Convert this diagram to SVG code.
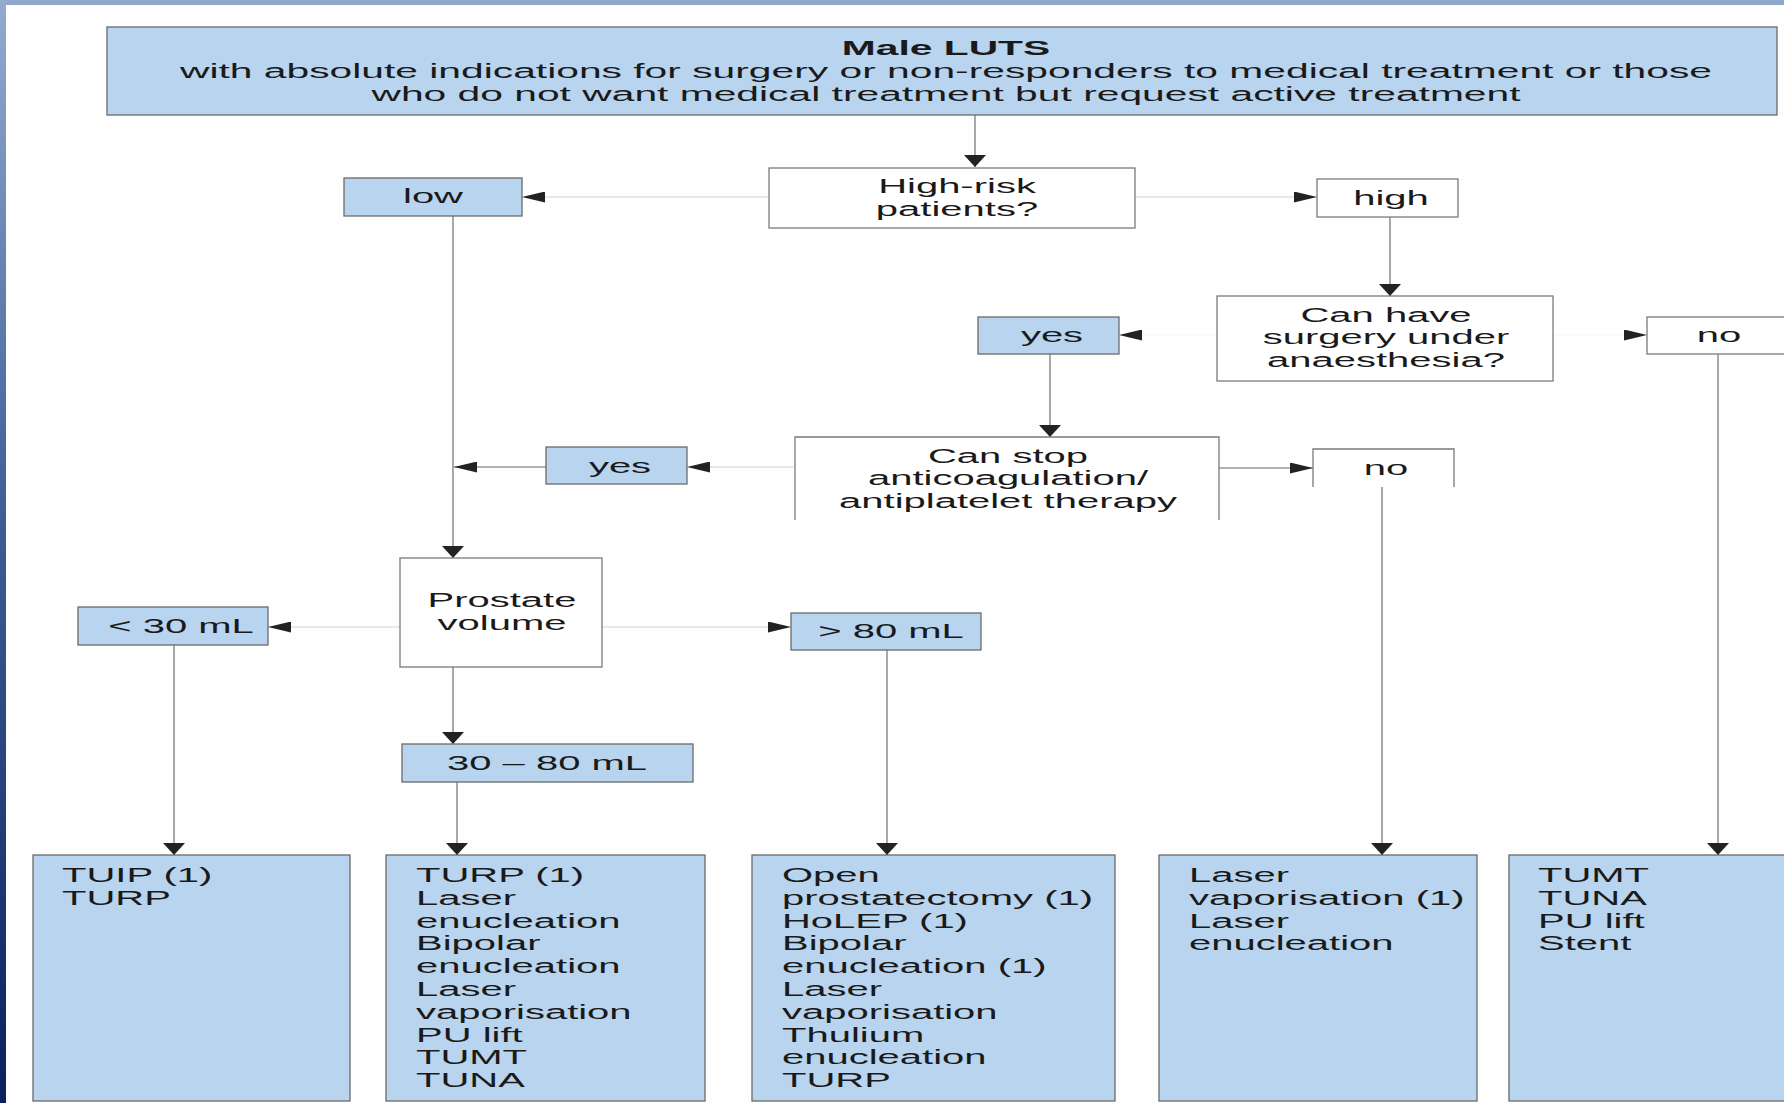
<svg xmlns="http://www.w3.org/2000/svg" width="1784" height="1103" viewBox="0 0 1784 1103">
<style>
.t{font-family:"Liberation Sans",Arial,sans-serif;font-size:20px;fill:#1a1a1a}
.b{font-weight:bold}
.blue{fill:#b9d4ee;stroke:#6a6a6a;stroke-width:1.3}
.white{fill:#ffffff;stroke:#7a7a7a;stroke-width:1.3}
.open{fill:#ffffff;stroke:#7a7a7a;stroke-width:1.3}
.v{stroke:#7a7a7a;stroke-width:1.3;fill:none}
.h{stroke:#9a9a9a;stroke-width:1.3;fill:none}
.faint{stroke:#e2e2e2;stroke-width:1.3;fill:none}
.vfaint{stroke:#f7f7f7;stroke-width:1.3;fill:none}
</style>
<defs>
<linearGradient id="side" x1="0" y1="0" x2="0" y2="1">
<stop offset="0" stop-color="#93abce"/>
<stop offset="0.45" stop-color="#40609a"/>
<stop offset="1" stop-color="#0a1f5e"/>
</linearGradient>
<marker id="ah" markerUnits="userSpaceOnUse" viewBox="0 0 23 11" markerWidth="23" markerHeight="11" refX="23" refY="5.5" orient="auto">
<path d="M0,0 L23,5.5 L0,11 Z" fill="#222"/>
</marker>
<marker id="av" markerUnits="userSpaceOnUse" viewBox="0 0 12 22" markerWidth="12" markerHeight="22" refX="12" refY="11" orient="auto">
<path d="M0,0 L12,11 L0,22 Z" fill="#222"/>
</marker>
</defs>
<rect x="0" y="0" width="1784" height="1103" fill="#fefefe"/>
<rect x="0" y="0" width="1784" height="5" fill="#8ea8ca"/>
<rect x="0" y="0" width="6" height="1103" fill="url(#side)"/>

<g id="connectors">
<line class="v" x1="975" y1="115" x2="975" y2="167" marker-end="url(#av)"/>
<line class="faint" x1="769" y1="197" x2="522" y2="197" marker-end="url(#ah)"/>
<line class="faint" x1="1135" y1="197" x2="1317" y2="197" marker-end="url(#ah)"/>
<line class="v" x1="1390" y1="217" x2="1390" y2="296" marker-end="url(#av)"/>
<line class="vfaint" x1="1217" y1="335" x2="1119" y2="335" marker-end="url(#ah)"/>
<line class="vfaint" x1="1553" y1="335" x2="1647" y2="335" marker-end="url(#ah)"/>
<line class="v" x1="1050" y1="354" x2="1050" y2="437" marker-end="url(#av)"/>
<line class="faint" x1="795" y1="467" x2="687" y2="467" marker-end="url(#ah)"/>
<line class="h" x1="546" y1="467" x2="454" y2="467" marker-end="url(#ah)"/>
<line class="h" x1="1219" y1="468" x2="1313" y2="468" marker-end="url(#ah)"/>
<line class="v" x1="453" y1="216" x2="453" y2="558" marker-end="url(#av)"/>
<line class="faint" x1="400" y1="627" x2="268" y2="627" marker-end="url(#ah)"/>
<line class="faint" x1="602" y1="627" x2="791" y2="627" marker-end="url(#ah)"/>
<line class="v" x1="453" y1="667" x2="453" y2="744" marker-end="url(#av)"/>
<line class="v" x1="174" y1="645" x2="174" y2="855" marker-end="url(#av)"/>
<line class="v" x1="457" y1="782" x2="457" y2="855" marker-end="url(#av)"/>
<line class="v" x1="887" y1="650" x2="887" y2="855" marker-end="url(#av)"/>
<line class="v" x1="1382" y1="487" x2="1382" y2="855" marker-end="url(#av)"/>
<line class="v" x1="1718" y1="354" x2="1718" y2="855" marker-end="url(#av)"/>
</g>

<g id="header">
<rect class="blue" x="107" y="27" width="1670" height="88"/>
<text class="t" text-anchor="middle" transform="translate(946 55) scale(2.04 1)"><tspan class="b" x="0" y="0">Male LUTS</tspan><tspan x="0" y="23">with absolute indications for surgery or non-responders to medical treatment or those</tspan><tspan x="0" y="46">who do not want medical treatment but request active treatment</tspan></text>
</g>

<g id="highrisk">
<rect class="white" x="769" y="168" width="366" height="60"/>
<text class="t" text-anchor="middle" transform="translate(957 193) scale(2 1)"><tspan x="0" y="0">High-risk</tspan><tspan x="0" y="23">patients?</tspan></text>
</g>

<g id="low">
<rect class="blue" x="344" y="178" width="178" height="38"/>
<text class="t" text-anchor="middle" transform="translate(433 203) scale(2 1)">low</text>
</g>

<g id="high">
<rect class="white" x="1317" y="179" width="141" height="38"/>
<text class="t" text-anchor="middle" transform="translate(1391 205) scale(2 1)">high</text>
</g>

<g id="canhave">
<rect class="white" x="1217" y="296" width="336" height="85"/>
<text class="t" text-anchor="middle" transform="translate(1386 322) scale(2 1)"><tspan x="0" y="0">Can have</tspan><tspan x="0" y="22.5">surgery under</tspan><tspan x="0" y="45">anaesthesia?</tspan></text>
</g>

<g id="yes1">
<rect class="blue" x="978" y="317" width="141" height="37"/>
<text class="t" text-anchor="middle" transform="translate(1052 342) scale(2 1)">yes</text>
</g>

<g id="no2">
<rect class="white" x="1647" y="317" width="160" height="37"/>
<text class="t" text-anchor="middle" transform="translate(1719 342) scale(2 1)">no</text>
</g>

<g id="canstop">
<path class="open" d="M795,520 V437 H1219 V520"/>
<text class="t" text-anchor="middle" transform="translate(1008 463) scale(2 1)"><tspan x="0" y="0">Can stop</tspan><tspan x="0" y="22.5">anticoagulation/</tspan><tspan x="0" y="45">antiplatelet therapy</tspan></text>
</g>

<g id="yes2">
<rect class="blue" x="546" y="447" width="141" height="37"/>
<text class="t" text-anchor="middle" transform="translate(620 473) scale(2 1)">yes</text>
</g>

<g id="no1">
<path class="open" d="M1313,487 V449 H1454 V487"/>
<text class="t" text-anchor="middle" transform="translate(1386 475) scale(2 1)">no</text>
</g>

<g id="prostate">
<rect class="white" x="400" y="558" width="202" height="109"/>
<text class="t" text-anchor="middle" transform="translate(502 607) scale(2 1)"><tspan x="0" y="0">Prostate</tspan><tspan x="0" y="23">volume</tspan></text>
</g>

<g id="lt30">
<rect class="blue" x="78" y="607" width="190" height="38"/>
<text class="t" text-anchor="middle" transform="translate(181 633) scale(2 1)">&lt; 30 mL</text>
</g>

<g id="gt80">
<rect class="blue" x="791" y="613" width="190" height="37"/>
<text class="t" text-anchor="middle" transform="translate(891 638) scale(2 1)">&gt; 80 mL</text>
</g>

<g id="mid">
<rect class="blue" x="402" y="744" width="291" height="38"/>
<text class="t" text-anchor="middle" transform="translate(547 770) scale(2 1)">30 – 80 mL</text>
</g>

<g id="out1">
<rect class="blue" x="33" y="855" width="317" height="246"/>
<text class="t" transform="translate(62 882) scale(2 1)"><tspan x="0" y="0">TUIP (1)</tspan><tspan x="0" y="22.8">TURP</tspan></text>
</g>

<g id="out2">
<rect class="blue" x="386" y="855" width="319" height="246"/>
<text class="t" transform="translate(416 882) scale(2 1)"><tspan x="0" y="0">TURP (1)</tspan><tspan x="0" y="22.8">Laser</tspan><tspan x="0" y="45.6">enucleation</tspan><tspan x="0" y="68.4">Bipolar</tspan><tspan x="0" y="91.2">enucleation</tspan><tspan x="0" y="114">Laser</tspan><tspan x="0" y="136.8">vaporisation</tspan><tspan x="0" y="159.6">PU lift</tspan><tspan x="0" y="182.4">TUMT</tspan><tspan x="0" y="205.2">TUNA</tspan></text>
</g>

<g id="out3">
<rect class="blue" x="752" y="855" width="363" height="246"/>
<text class="t" transform="translate(782 882) scale(2 1)"><tspan x="0" y="0">Open</tspan><tspan x="0" y="22.8">prostatectomy (1)</tspan><tspan x="0" y="45.6">HoLEP (1)</tspan><tspan x="0" y="68.4">Bipolar</tspan><tspan x="0" y="91.2">enucleation (1)</tspan><tspan x="0" y="114">Laser</tspan><tspan x="0" y="136.8">vaporisation</tspan><tspan x="0" y="159.6">Thulium</tspan><tspan x="0" y="182.4">enucleation</tspan><tspan x="0" y="205.2">TURP</tspan></text>
</g>

<g id="out4">
<rect class="blue" x="1159" y="855" width="318" height="246"/>
<text class="t" transform="translate(1189 882) scale(2 1)"><tspan x="0" y="0">Laser</tspan><tspan x="0" y="22.8">vaporisation (1)</tspan><tspan x="0" y="45.6">Laser</tspan><tspan x="0" y="68.4">enucleation</tspan></text>
</g>

<g id="out5">
<rect class="blue" x="1509" y="855" width="300" height="246"/>
<text class="t" transform="translate(1538 882) scale(2 1)"><tspan x="0" y="0">TUMT</tspan><tspan x="0" y="22.8">TUNA</tspan><tspan x="0" y="45.6">PU lift</tspan><tspan x="0" y="68.4">Stent</tspan></text>
</g>
</svg>
